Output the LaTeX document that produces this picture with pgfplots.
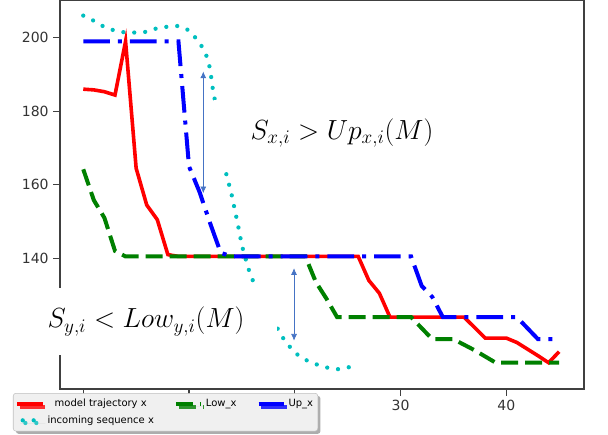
\documentclass[border=0pt]{standalone}
\usepackage{fontspec}
\setmainfont{DejaVu Sans}
\usepackage{pgfplots}
\pgfplotsset{compat=1.18}
\usetikzlibrary{arrows.meta,shadows}
\definecolor{mplcyan}{rgb}{0,0.75,0.75}
\definecolor{mplgreen}{rgb}{0,0.5,0}
\definecolor{arrowblue}{rgb}{0.27,0.45,0.77}
\tikzset{
  redline/.style={red, line width=2.7pt},
  greenline/.style={mplgreen, line width=3pt, dash pattern=on 12.75pt off 5.25pt},
  blueline/.style={blue, line width=3pt, dash pattern=on 20pt off 6pt on 3pt off 6pt},
  cyanline/.style={mplcyan, line width=3.2pt, line cap=round, dash pattern=on 0pt off 8.2pt},
}
\begin{document}
\begin{tikzpicture}
\begin{axis}[
  scale only axis, width=393pt, height=291.75pt,
  xmin=-2.2, xmax=47.35, ymin=104.45, ymax=210.25,
  xtick={0,10,20,30,40}, ytick={120,140,160,180,200},
  tick align=outside, tick pos=left, major tick length=5pt,
  axis line style={black!75, line width=0.9pt},
  every tick/.style={black!75, line width=0.9pt},
  tick label style={font=\fontsize{10.5}{12}\selectfont, text=black!80},
  /pgf/number format/assume math mode=true,
  legend columns=3,
  legend style={at={(-0.0897,-0.0103)}, anchor=north west,
    font=\fontsize{7.5}{9}\selectfont, fill=gray!12, draw=gray!50,
    rounded corners=2pt, inner xsep=1.5pt, inner ysep=2.5pt, row sep=1pt,
    drop shadow={shadow xshift=2pt, shadow yshift=-2pt, fill=gray!80, opacity=0.8},
    /tikz/every even column/.append style={column sep=13pt}},
  legend image code/.code={\draw[#1] (0pt,0pt) -- (19pt,0pt);},
]
\addplot[redline, forget plot] coordinates {
(0,186) (1,185.8) (2,185.3) (3,184.4) (4,199) (5,164.5) (6,154.5) (7,150.5) (8,141)
(9,140.5) (10,140.5) (11,140.5) (12,140.5) (13,140.5) (14,140.5) (15,140.5) (16,140.5)
(17,140.5) (18,140.5) (19,140.5) (20,140.5) (21,140.5) (22,140.5) (23,140.5) (24,140.5)
(25,140.5) (26,140.5) (27,134) (28,130.5) (29,124) (30,124) (31,124) (32,124) (33,124)
(34,124) (35,124) (36,124) (37,121.2) (38,118.3) (39,118.3) (40,118.3) (41,117.1)
(42,115.3) (43,113.5) (44,111.6) (45,114.6)};
\addplot[cyanline, forget plot] coordinates {
(0,206) (1,204.6) (2,202.9) (3,201.9) (4,201.4) (5,201.4) (6,201.6) (7,202.6) (8,203)
(9,203.2) (10,202) (11,198.7) (11.6,195.5) (12,191.5) (12.2,186.9) (12.4,183.8)
(13.3,165.4) (14,157.7) (14.6,149.5) (15,143.5) (15.6,137.3) (16,134.2) (16.4,131.6)
(17.5,125) (18.5,120.3) (19,117.8) (20,114.3) (21,112.4) (22,111.2) (23,110.3)
(24,109.8) (25,110.3) (25.8,110.8)};
\addplot[greenline, forget plot] coordinates {
(0,164.2) (1,155.8) (2,151) (3,142) (4,140.5) (5,140.5) (6,140.5) (7,140.5) (8,140.5)
(9,140.5) (10,140.5) (11,140.5) (12,140.5) (13,140.5) (14,140.5) (15,140.5) (16,140.5)
(17,140.5) (18,140.5) (19,140.5) (20,140.5) (21,140.5) (22,133.5) (23,129) (24,124)
(25,124) (26,124) (27,124) (28,124) (29,124) (30,124) (31,124) (32,121) (33,118)
(34,118) (35,118) (36,116.5) (37,115) (38,113.3) (39,111.6) (40,111.6) (41,111.6)
(42,111.6) (43,111.6) (44,111.6) (45,111.6)};
\addplot[blueline, forget plot] coordinates {
(0,199) (1,199) (2,199) (3,199) (4,199) (5,199) (6,199) (7,199) (8,199) (9,199)
(10,165) (11,158) (12,149.5) (13,141.5) (14,140.5) (15,140.5) (16,140.5) (17,140.5)
(18,140.5) (19,140.5) (20,140.5) (21,140.5) (22,140.5) (23,140.5) (24,140.5) (25,140.5)
(26,140.5) (27,140.5) (28,140.5) (29,140.5) (30,140.5) (31,140.5) (32,132.5) (33,129.5)
(34,124) (35,124) (36,124) (37,124) (38,124) (39,124) (40,124) (41,124) (42,121)
(43,118) (44,118) (44.5,118)};
\addlegendimage{redline}
\addlegendentry{model trajectory x}
\addlegendimage{greenline}
\addlegendentry{Low\_x}
\addlegendimage{blueline}
\addlegendentry{Up\_x}
\addlegendimage{cyanline, dash phase=-4pt}
\addlegendentry{incoming sequence x}
\draw[{Latex[length=5pt,width=4.5pt]}-{Latex[length=5pt,width=4.5pt]}, arrowblue, line width=0.5pt]
  (axis cs:11.35,190.8) -- (axis cs:11.35,157.7);
\draw[{Latex[length=5pt,width=4.5pt]}-{Latex[length=5pt,width=4.5pt]}, arrowblue, line width=0.5pt]
  (axis cs:19.93,137.3) -- (axis cs:19.93,117.6);
\coordinate (sx) at (axis cs:24.47,174.0);
\coordinate (sy) at (axis cs:5.93,122.8);
\end{axis}
\node[fill=white, minimum width=192pt, minimum height=50pt, inner sep=0pt]
  at (sx) {\fontsize{21.5}{24}\selectfont $S_{x,i} > Up_{x,i}(M)$};
\node[fill=white, minimum width=196.5pt, minimum height=50pt, inner sep=0pt]
  at (sy) {\fontsize{21.5}{24}\selectfont $S_{y,i} < Low_{y,i}(M)$};
\pgfresetboundingbox
\path[use as bounding box] (-45pt,-34.5pt) rectangle (411pt,291.75pt);
\end{tikzpicture}
\end{document}
